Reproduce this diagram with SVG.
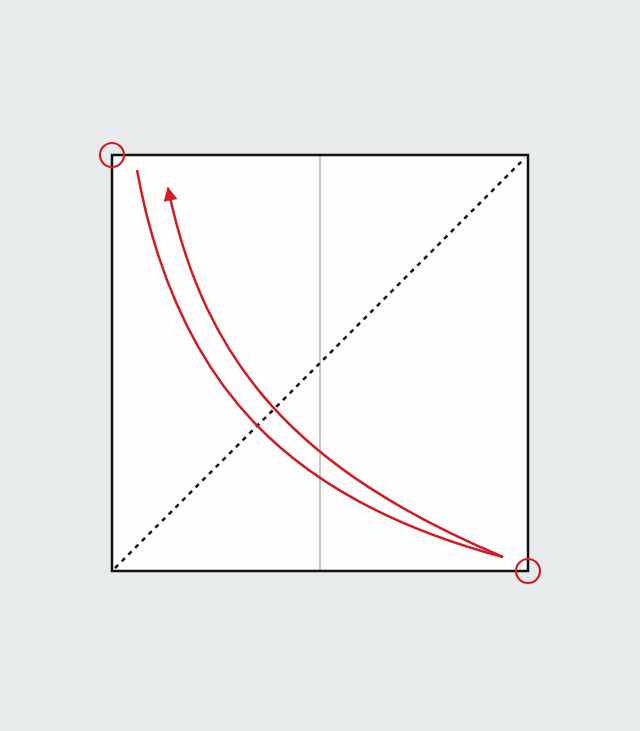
<svg xmlns="http://www.w3.org/2000/svg" width="640" height="731" viewBox="0 0 640 731">
<style>
.red{fill:none;stroke:#d11c24;stroke-width:2.5}
.mark{fill:none;stroke:#d11c24;stroke-width:2.2}
</style>
<defs>
<marker id="ah" viewBox="0 0 10 10" refX="9" refY="5" markerWidth="16" markerHeight="14" markerUnits="userSpaceOnUse" orient="auto">
<path d="M0,0 L10,5 L0,10 Z" fill="#d11c24"/>
</marker>
</defs>
<rect width="640" height="731" fill="#e8ebeb"/>
<g id="paper">
<rect x="112" y="155" width="416" height="416" fill="#fdfdfd"/>
<line x1="320" y1="156" x2="320" y2="570" stroke="#c9c9c9" stroke-width="2"/>
<line x1="115" y1="568" x2="525" y2="158" stroke="#111" stroke-width="2.5" stroke-dasharray="4.5,5"/>
<rect x="112" y="155" width="416" height="416" fill="none" stroke="#111" stroke-width="2.5"/>
</g>
<g id="connectors">
<path class="red" d="M137,170 C176,384 288,500 503,557"/>
<path class="red" d="M503,557 C298,470 205,366 168,188" marker-end="url(#ah)"/>
</g>
<g id="corner-tl"><circle class="mark" cx="112" cy="155" r="12"/></g>
<g id="corner-br"><circle class="mark" cx="528" cy="571" r="12"/></g>
</svg>
